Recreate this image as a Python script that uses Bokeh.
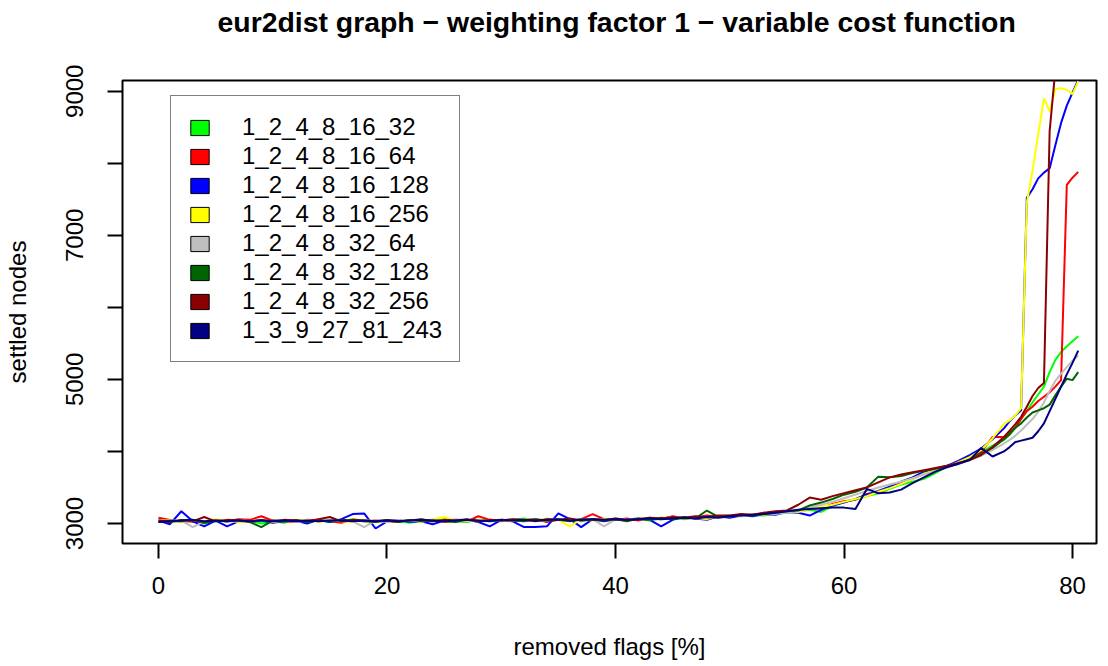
from bokeh.plotting import figure
from bokeh.models import Range1d, FixedTicker, Legend, LegendItem, Title
from bokeh.embed import file_html
from bokeh.resources import INLINE

# removed flags [%]
removed_flags = list(range(75)) + [74.5, 75, 75.5, 76, 76.5, 77, 77.5, 78, 78.5, 79, 79.5, 80, 80.5]

series_names = ["1_2_4_8_16_32", "1_2_4_8_16_64", "1_2_4_8_16_128", "1_2_4_8_16_256",
                "1_2_4_8_32_64", "1_2_4_8_32_128", "1_2_4_8_32_256", "1_3_9_27_81_243"]
series_colors = ["#00FF00", "#FF0000", "#0000FF", "#FFFF00",
                 "#BEBEBE", "#006400", "#8B0000", "#000080"]

s_16_32 = [3060, 3010, 3040, 3050, 3000, 3030, 3050, 3020, 3040, 3000,
           3030, 3010, 3050, 3030, 3040, 3020, 3030, 3060, 3040, 3020,
           3050, 3030, 3010, 3040, 3030, 3060, 3030, 3020, 3050, 3040,
           3030, 3050, 3070, 3040, 3030, 3060, 3050, 3030, 3060, 3040,
           3070, 3050, 3060, 3040, 3070, 3080, 3060, 3090, 3080, 3100,
           3110, 3100, 3120, 3110, 3140, 3150, 3170, 3190, 3160, 3240,
           3300, 3330, 3380, 3420, 3480, 3540, 3580, 3620, 3700, 3790,
           3860, 3900, 3990, 4080, 4160,
           4230, 4330, 4450, 4560, 4680, 4790, 4900, 5100, 5270, 5380, 5460, 5530, 5600]
s_16_64 = [3080, 3050, 3020, 3030, 3010, 3040, 3030, 3060, 3050, 3100,
           3040, 3030, 3020, 3050, 3040, 3030, 3010, 3050, 3030, 3040,
           3030, 3020, 3050, 3030, 3050, 3020, 3040, 3030, 3100, 3050,
           3040, 3030, 3050, 3060, 3020, 3050, 3040, 3060, 3130, 3060,
           3050, 3070, 3040, 3080, 3060, 3100, 3070, 3080, 3110, 3090,
           3090, 3120, 3110, 3150, 3130, 3160, 3180, 3200, 3210, 3270,
           3310, 3330, 3410, 3440, 3500, 3560, 3620, 3690, 3740, 3790,
           3840, 3930, 3990, 4200, 4200,
           4260, 4330, 4450, 4560, 4620, 4700, 4760, 4820, 4900, 4990, 7700, 7800, 7880]
s_16_128 = [3040, 2990, 3170, 3030, 2960, 3040, 2960, 3030, 3020, 3040,
            3010, 3030, 3040, 3000, 3050, 3020, 3060, 3130, 3140, 2930,
            3030, 3050, 3020, 3030, 2990, 3040, 3030, 3050, 3020, 2960,
            3050, 3030, 2950, 2950, 2960, 3140, 3060, 2950, 3060, 3030,
            3060, 3040, 3070, 3050, 2960, 3050, 3090, 3070, 3050, 3100,
            3080, 3110, 3100, 3130, 3120, 3160, 3150, 3110, 3190, 3250,
            3290, 3340, 3400, 3450, 3510, 3580, 3640, 3720, 3760, 3800,
            3870, 3950, 4040, 4170, 4320,
            4420, 4500, 4570, 7520, 7640, 7790, 7870, 7930, 8250, 8560, 8800, 8980, 9160]
s_16_256 = [3030, 3050, 3020, 3040, 3030, 3060, 3040, 3020, 3030, 3050,
            3020, 3040, 3030, 3050, 3020, 3040, 3030, 3020, 3050, 3030,
            3040, 3030, 3050, 3020, 3060, 3090, 3040, 3030, 3050, 3040,
            3050, 3030, 3060, 3040, 3070, 3050, 2960, 3060, 3040, 3070,
            3060, 3050, 3070, 3060, 3080, 3070, 3090, 3080, 3060, 3100,
            3100, 3110, 3130, 3120, 3150, 3170, 3160, 3200, 3230, 3260,
            3300, 3340, 3380, 3440, 3490, 3550, 3620, 3690, 3740, 3790,
            3850, 3920, 4020, 4180, 4380,
            4430, 4500, 4600, 7450, 7900, 8400, 8900, 8720, 9030, 9040, 9020, 8960, 9140]
s_32_64 = [3050, 3020, 3040, 2950, 3030, 3040, 3020, 3050, 3030, 3040,
           3030, 3050, 3020, 3040, 3030, 3050, 3040, 3030, 2950, 3040,
           3020, 3050, 3030, 3040, 3050, 3030, 3060, 3040, 3030, 3050,
           3040, 3060, 3030, 3050, 3040, 3060, 3050, 3040, 3060, 2960,
           3060, 3050, 3080, 3060, 3070, 3090, 3070, 3090, 3080, 3090,
           3110, 3100, 3120, 3140, 3130, 3150, 3180, 3220, 3260, 3300,
           3350, 3400, 3450, 3500, 3540, 3580, 3630, 3680, 3730, 3780,
           3820, 3880, 3940, 4020, 4110,
           4160, 4220, 4290, 4370, 4450, 4550, 4680, 4840, 4980, 5080, 5170, 5260, 5330]
s_32_128 = [3020, 3040, 3030, 3050, 3010, 3040, 3030, 3050, 3020, 2950,
            3040, 3030, 3050, 3020, 3040, 3030, 3050, 3040, 3030, 3020,
            3040, 3020, 3050, 3030, 3040, 3030, 3020, 3050, 3030, 3040,
            3050, 3040, 3030, 3060, 3040, 3050, 3030, 3060, 3050, 3040,
            3060, 3030, 3070, 3050, 3080, 3060, 3090, 3070, 3180, 3090,
            3100, 3120, 3110, 3130, 3150, 3170, 3180, 3250, 3290, 3340,
            3400, 3440, 3500, 3650, 3640, 3660, 3700, 3730, 3760, 3790,
            3830, 3890, 3970, 4050, 4170,
            4240, 4330, 4390, 4470, 4540, 4570, 4600, 4650, 4780, 4900, 5010, 4990, 5100]
s_32_256 = [3040, 3020, 3050, 3030, 3090, 3030, 3050, 3040, 3030, 3050,
            3030, 3050, 3040, 3030, 3060, 3090, 3030, 3050, 3040, 3030,
            3050, 3030, 3040, 3060, 3030, 3050, 3040, 3060, 3030, 3050,
            3040, 3060, 3050, 3030, 3060, 3050, 3070, 3040, 3060, 3050,
            3070, 3050, 3060, 3080, 3070, 3090, 3080, 3100, 3090, 3110,
            3110, 3130, 3120, 3150, 3170, 3180, 3260, 3360, 3330, 3380,
            3420, 3460, 3500, 3570, 3640, 3680, 3710, 3740, 3770, 3800,
            3840, 3880, 3950, 4060, 4200,
            4290, 4380, 4480, 4620, 4770, 4880, 4950, 8450, 9300, 9450, 9550, 9650, 9750]
s_1_3_9 = [3020, 3030, 3040, 3050, 3030, 3040, 3030, 3040, 3030, 3040,
           3030, 3040, 3030, 3040, 3030, 3040, 3040, 3030, 3040, 3030,
           3040, 3030, 3040, 3050, 3040, 3030, 3040, 3050, 3040, 3030,
           3050, 3040, 3050, 3040, 3050, 3060, 3040, 3050, 3060, 3050,
           3060, 3050, 3060, 3070, 3060, 3070, 3080, 3070, 3090, 3080,
           3100, 3110, 3120, 3130, 3150, 3170, 3190, 3200, 3210, 3220,
           3220, 3200, 3480, 3420, 3430, 3470, 3560, 3640, 3720, 3780,
           3830, 3880, 4050, 3930, 4000,
           4060, 4130, 4150, 4170, 4190, 4280, 4390, 4560, 4730, 4900, 5070, 5230, 5400]

all_series = [s_16_32, s_16_64, s_16_128, s_16_256, s_32_64, s_32_128, s_32_256, s_1_3_9]

x_ticks = [0, 20, 40, 60, 80]
y_ticks = [3000, 4000, 5000, 6000, 7000, 8000, 9000]
y_tick_labels = {4000: "", 6000: "", 8000: ""}

title_text = "eur2dist graph \u2212 weighting factor 1 \u2212 variable cost function"
x_title = "removed flags [%]"
y_title = "settled nodes"

FONT = "Liberation Sans"

p = figure(width=1108, height=666, output_backend="svg", toolbar_location=None,
           x_range=Range1d(-3.15, 82.1), y_range=Range1d(2722, 9149),
           min_border_left=122, min_border_right=12, min_border_top=80, min_border_bottom=123)
p.background_fill_color = "white"
p.border_fill_color = "white"
p.outline_line_color = "black"
p.outline_line_width = 2
p.grid.visible = False

x_axis = p.below[0]
y_axis = p.left[0]

for ax in (x_axis, y_axis):
    ax.axis_line_color = None
    ax.major_tick_line_color = "black"
    ax.major_tick_line_width = 2
    ax.major_tick_out = 15
    ax.major_tick_in = 0
    ax.minor_tick_line_color = None
    ax.major_label_text_font = FONT
    ax.major_label_text_font_size = "24px"
    ax.major_label_text_color = "black"
    ax.axis_label_text_font = FONT
    ax.axis_label_text_font_size = "24px"
    ax.axis_label_text_font_style = "normal"
    ax.axis_label_text_color = "black"

x_axis.ticker = FixedTicker(ticks=x_ticks)
x_axis.axis_label = x_title
x_axis.major_label_standoff = 18
x_axis.axis_label_standoff = 36

y_axis.ticker = FixedTicker(ticks=y_ticks)
y_axis.major_label_overrides = y_tick_labels
y_axis.major_label_orientation = "vertical"
y_axis.axis_label = y_title
y_axis.major_label_standoff = 24
y_axis.axis_label_standoff = 33

# blank spacer panel between the frame and the title
spacer = Title(text=" ", text_font=FONT, text_font_size="10px", standoff=29,
               text_color="white")
p.add_layout(spacer, "above")

title = Title(text=title_text, align="left", offset=95, vertical_align="bottom",
              text_font=FONT, text_font_size="28.4px", text_font_style="bold",
              text_color="black", standoff=2)
p.add_layout(title, "above")

for name, color, vals in zip(series_names, series_colors, all_series):
    p.line(removed_flags, vals, line_color=color, line_width=2)

nan = float("nan")
items = []
for name, color in zip(series_names, series_colors):
    r = p.quad(left=[nan], right=[nan], top=[nan], bottom=[nan], fill_color=color,
               line_color="black", line_width=1)
    items.append(LegendItem(label=name, renderers=[r]))

legend = Legend(items=items, location=(48, 181), orientation="vertical",
                border_line_color="black", border_line_width=1.5,
                background_fill_color="white", background_fill_alpha=1.0,
                padding=17, margin=0, spacing=1,
                glyph_width=23, glyph_height=19, label_height=27,
                label_standoff=31, label_text_font=FONT,
                label_text_font_size="24px", label_text_color="black")
p.add_layout(legend, "center")

open("out.html", "w").write(file_html(p, INLINE))
